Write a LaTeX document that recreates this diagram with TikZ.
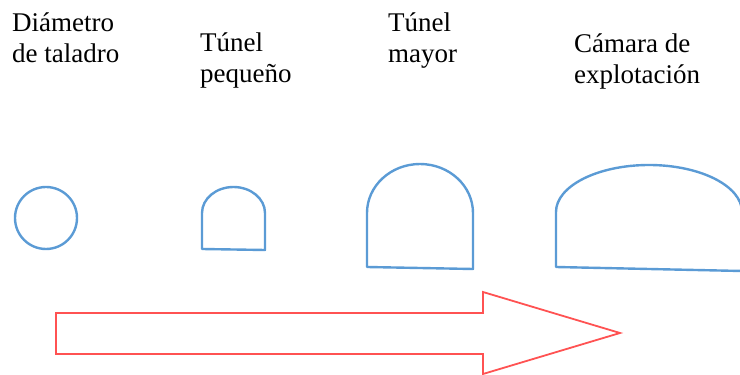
\documentclass[tikz,border=0pt]{standalone}
\definecolor{tunnelBlue}{RGB}{91,155,213}
\definecolor{arrowRed}{RGB}{255,82,82}
\usepackage{fontspec}
\setmainfont{Liberation Serif}
\usepackage{tikz}
\usetikzlibrary{positioning}

\begin{document}
\begin{tikzpicture}[x=1pt,y=1pt,
    lbl/.style={anchor=base west,inner sep=0pt,align=left,font=\fontsize{27}{31}\selectfont},
    outline/.style={draw=tunnelBlue,line width=2.4pt,line join=round}]
        \clip (0,0) rectangle (740,375);
        % labels (anchored at the last line)
        \node[lbl] (drill) at (12,312) {Diámetro\\de taladro};
        \node[lbl] (small) at (200,292) {Túnel\\pequeño};
        \node[lbl] (large) at (388,312) {Túnel\\mayor};
        \node[lbl] (chamber) at (574,291) {Cámara de\\explotación};
        % drill hole
        \draw[outline] (46,157) circle[radius=31];
        % small tunnel
        \draw[outline] (202,126)--(202,162)
          arc[start angle=180,end angle=0,x radius=31.5,y radius=26]--(265,125)--cycle;
        % large tunnel
        \draw[outline] (367,108)--(367,162)
          arc[start angle=180,end angle=0,x radius=53,y radius=49]--(473,106)--cycle;
        % chamber (cut at the right edge)
        \draw[outline] (556,108)--(556,163)
          arc[start angle=180,end angle=0,x radius=93,y radius=47]--(742,104)--cycle;
        % scale arrow
        \draw[arrowRed,line width=1.8pt,line join=miter]
          (56,21)--(56,62)--(483,62)--(483,83)--(620,42)--(483,1)--(483,21)--cycle;
      \end{tikzpicture}
\end{document}
